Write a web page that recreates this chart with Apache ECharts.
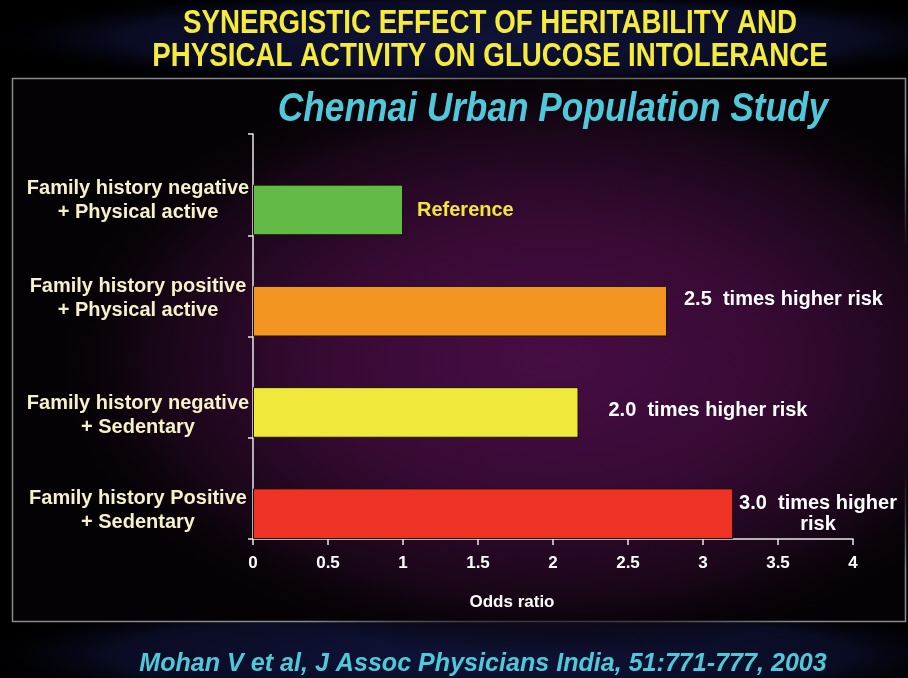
<!DOCTYPE html>
<html>
<head>
<meta charset="utf-8">
<script src="https://cdn.jsdelivr.net/npm/echarts@6/dist/echarts.min.js"></script>
<style>
  html, body { margin: 0; padding: 0; background: #000; }
  #chart_odds { width: 908px; height: 678px; }
</style>
</head>
<body>
<div id="chart_odds"></div>
<script>
var categories = [
    'Family history negative\n+ Physical active',
    'Family history positive\n+ Physical active',
    'Family history negative\n+ Sedentary',
    'Family history Positive\n+ Sedentary'
];
var oddsRatios = [1.0, 2.76, 2.17, 3.2];
var riskLabels = ['Reference', '2.5  times higher risk', '2.0  times higher risk', '3.0  times higher\nrisk'];
var barColors = ['#62bb47', '#f39621', '#f0e83b', '#ee3324'];
var padValues = [0, 0, 0, 0];

var font = "'Liberation Sans', Arial, sans-serif";

function fun_Chart_Odds(){
    var myChart = echarts.init(document.getElementById('chart_odds'));
    // label nudges, one per bar
    var labelStyles = [
        { color: '#f2e63a', offset: [9, 1] },
        { color: '#ffffff', offset: [12, -12] },
        { color: '#ffffff', offset: [25, -2] },
        { color: '#ffffff', offset: [80, 0], align: 'center' }
    ];
    // spacer line heights, pushes each category text down in its band
    var spacer = [32, 26, 56, 44];
    var catText = { color: '#f6f1c9', fontFamily: font, fontWeight: 'bold', fontSize: 20, lineHeight: 24 };
    var rich = { a: catText };
    spacer.forEach(function(h, i){ rich['s' + i] = { fontSize: 2, lineHeight: h }; });

    var option = {
        backgroundColor: '#000',
        graphic: [{
            type: 'circle',
            z: -10,
            shape: { cx: 490, cy: 38, r: 520 },
            scaleY: 0.1,
            originX: 490, originY: 38,
            style: {
                fill: new echarts.graphic.RadialGradient(0.5, 0.5, 0.5, [
                    { offset: 0, color: '#0f1338' },
                    { offset: 0.7, color: '#0a0c24' },
                    { offset: 1, color: 'rgba(0,0,0,0)' }
                ])
            }
        }, {
            type: 'circle',
            z: -10,
            shape: { cx: 480, cy: 655, r: 520 },
            scaleY: 0.12,
            originX: 480, originY: 655,
            style: {
                fill: new echarts.graphic.RadialGradient(0.5, 0.5, 0.5, [
                    { offset: 0, color: '#0f1338' },
                    { offset: 0.7, color: '#0a0c24' },
                    { offset: 1, color: 'rgba(0,0,0,0)' }
                ])
            }
        }, {
            type: 'rect',
            z: -9,
            shape: { x: 12.5, y: 78.5, width: 893, height: 543 },
            style: { fill: '#050205', stroke: '#8a8a8a', lineWidth: 1.5 }
        }, {
            type: 'circle',
            z: -8,
            shape: { cx: 550, cy: 360, r: 500 },
            scaleY: 0.6,
            originX: 550, originY: 360,
            style: {
                fill: new echarts.graphic.RadialGradient(0.5, 0.5, 0.5, [
                    { offset: 0, color: '#470d44' },
                    { offset: 0.45, color: '#370a34' },
                    { offset: 0.8, color: '#170616' },
                    { offset: 1, color: 'rgba(5,2,5,0)' }
                ])
            }
        }, {
            type: 'text',
            x: 490, y: 7,
            scaleX: 0.84,
            style: {
                text: 'SYNERGISTIC EFFECT OF HERITABILITY AND\nPHYSICAL ACTIVITY ON GLUCOSE INTOLERANCE',
                x: 0, y: 0,
                align: 'center',
                verticalAlign: 'top',
                fill: '#f5eb3c',
                fontFamily: font,
                fontWeight: 'bold',
                fontSize: 33,
                lineHeight: 33
            }
        }, {
            type: 'text',
            x: 553, y: 110,
            scaleX: 0.86,
            style: {
                text: 'Chennai Urban Population Study',
                x: 0, y: 0,
                align: 'center',
                verticalAlign: 'middle',
                fill: '#4fc9d9',
                fontFamily: font,
                fontWeight: 'bold',
                fontStyle: 'italic',
                fontSize: 41
            }
        }, {
            type: 'text',
            x: 483, y: 664,
            scaleX: 0.965,
            style: {
                text: 'Mohan V et al, J Assoc Physicians India, 51:771-777, 2003',
                x: 0, y: 0,
                align: 'center',
                verticalAlign: 'middle',
                fill: '#4fc9d9',
                fontFamily: font,
                fontWeight: 'bold',
                fontStyle: 'italic',
                fontSize: 26
            }
        }],
        grid: {
            left: 253,
            right: 55,
            top: 134,
            bottom: 139
        },
        xAxis: {
            type: 'value',
            min: 0,
            max: 4,
            interval: 0.5,
            name: 'Odds ratio',
            nameLocation: 'middle',
            nameGap: 55,
            nameTextStyle: {
                color: '#fff',
                fontFamily: font,
                fontWeight: 'bold',
                fontSize: 17,
                padding: [0, 82, 0, 0]
            },
            splitLine: { show: false },
            axisLine: { show: true, lineStyle: { color: '#e8e8e8', width: 1.5 } },
            axisTick: { show: true, length: 6, lineStyle: { color: '#e8e8e8', width: 1.5 } },
            axisLabel: {
                color: '#fff',
                fontFamily: font,
                fontWeight: 'bold',
                fontSize: 17,
                margin: 16
            }
        },
        yAxis: {
            type: 'category',
            inverse: true,
            data: categories,
            axisLine: { show: true, lineStyle: { color: '#e8e8e8', width: 1.5 } },
            axisTick: { show: true, length: 5, lineStyle: { color: '#e8e8e8', width: 1.5 } },
            axisLabel: {
                margin: 115,
                align: 'center',
                formatter: function(value, i){
                    var lines = value.split('\n');
                    return '{s' + i + '| }\n{a|' + lines[0] + '}\n{a|' + lines[1] + '}';
                },
                rich: rich
            }
        },
        series: [{
                name: 'pad',
                type: 'bar',
                barGap: '0%',
                barCategoryGap: '0%',
                silent: true,
                itemStyle: { color: 'rgba(0,0,0,0)' },
                data: padValues
            },
            {
                name: 'Odds ratio',
                type: 'bar',
                barGap: '0%',
                barCategoryGap: '0%',
                data: oddsRatios.map(function(v, i){
                    return {
                        value: v,
                        itemStyle: { color: barColors[i] },
                        label: labelStyles[i]
                    };
                }),
                itemStyle: {
                    borderColor: '#1e1208',
                    borderWidth: 1
                },
                label: {
                    show: true,
                    position: 'right',
                    fontFamily: font,
                    fontWeight: 'bold',
                    fontSize: 20,
                    lineHeight: 21,
                    formatter: function(p){ return riskLabels[p.dataIndex]; }
                }
            }
        ]
    };
    myChart.setOption(option);
}
fun_Chart_Odds();
</script>
</body>
</html>
